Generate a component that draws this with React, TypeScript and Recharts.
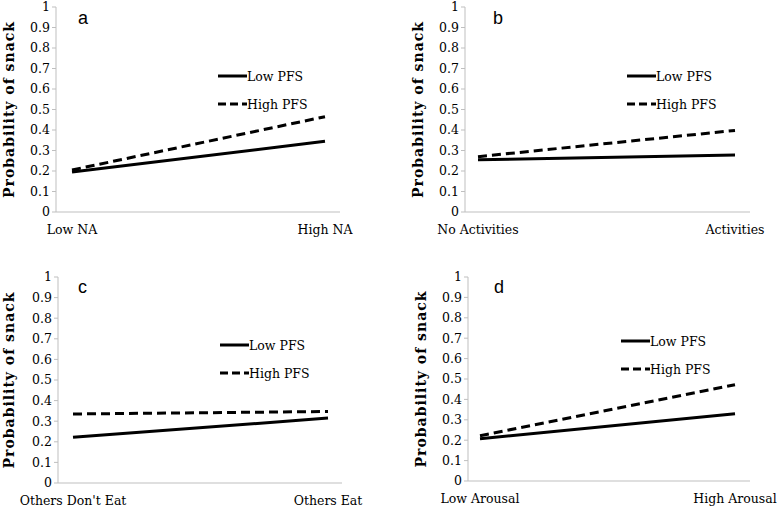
import { LineChart, Line, XAxis, YAxis } from 'recharts'

const yTicks = [0, 0.1, 0.2, 0.3, 0.4, 0.5, 0.6, 0.7, 0.8, 0.9, 1]
const legendLabels = ['Low PFS', 'High PFS']

const catsA = ['Low NA', 'High NA']
const lowA = [0.195, 0.345]
const highA = [0.205, 0.465]

const catsB = ['No Activities', 'Activities']
const lowB = [0.255, 0.278]
const highB = [0.27, 0.398]

const catsC = ["Others Don't Eat", 'Others Eat']
const lowC = [0.222, 0.315]
const highC = [0.335, 0.347]

const catsD = ['Low Arousal', 'High Arousal']
const lowD = [0.207, 0.33]
const highD = [0.222, 0.472]

const SERIF = '"DejaVu Serif", serif'
const AXIS_GRAY = '#bfbfbf'

function buildRows(cats: string[], low: number[], high: number[]) {
  return cats.map((c, i) => ({ cat: c, low: low[i], high: high[i] }))
}

function YTitle(props: any) {
  const { viewBox, titleX } = props
  const cy = viewBox.y + viewBox.height / 2
  return (
    <text
      x={titleX}
      y={cy}
      transform={`rotate(-90, ${titleX}, ${cy})`}
      textAnchor="middle"
      dominantBaseline="central"
      fontFamily={SERIF}
      fontWeight="bold"
      fontSize={14}
      letterSpacing={1}
      fill="#000"
    >
      Probability of snack
    </text>
  )
}

function LegendBox({ left, top }: { left: number; top: number }) {
  const dashes = [undefined, '8 4']
  return (
    <div style={{ position: 'absolute', left, top }}>
      {legendLabels.map((label, i) => (
        <div key={label} style={{ display: 'flex', alignItems: 'center', height: 28 }}>
          <svg width={29} height={6} style={{ display: 'block' }}>
            <line x1={0} y1={3} x2={29} y2={3} stroke="#000" strokeWidth={3} strokeDasharray={dashes[i]} />
          </svg>
          <span style={{ fontFamily: SERIF, fontSize: 12.5, color: '#000', whiteSpace: 'nowrap' }}>{label}</span>
        </div>
      ))}
    </div>
  )
}

type PanelProps = {
  letter: string
  left: number
  top: number
  cats: string[]
  low: number[]
  high: number[]
  axisW: number
  axisH: number
  margin: { top: number; right: number; bottom: number; left: number }
  pad: { left: number; right: number }
  titleX: number
  legendPos: { left: number; top: number }
  letterPos: { left: number; top: number }
}

function Panel(p: PanelProps) {
  const rows = buildRows(p.cats, p.low, p.high)
  return (
    <div style={{ position: 'absolute', left: p.left, top: p.top, width: 389, height: 254 }}>
      <LineChart width={389} height={254} data={rows} margin={p.margin} style={{ overflow: 'visible' }}>
        <XAxis
          dataKey="cat"
          height={p.axisH}
          axisLine={{ stroke: AXIS_GRAY }}
          tickLine={false}
          tickSize={0}
          tickMargin={13}
          padding={p.pad}
          interval={0}
          tick={{ fontFamily: SERIF, fontSize: 12.5, fill: '#000' }}
        />
        <YAxis
          width={p.axisW}
          domain={[0, 1]}
          ticks={yTicks}
          axisLine={{ stroke: AXIS_GRAY }}
          tickLine={{ stroke: AXIS_GRAY }}
          tickSize={4}
          tickMargin={2}
          interval={0}
          tick={{ fontFamily: SERIF, fontSize: 12.5, fill: '#000' }}
          label={<YTitle titleX={p.titleX} />}
        />
        <Line
          dataKey="low"
          name="Low PFS"
          stroke="#000"
          strokeWidth={3}
          dot={false}
          isAnimationActive={false}
        />
        <Line
          dataKey="high"
          name="High PFS"
          stroke="#000"
          strokeWidth={3}
          strokeDasharray="9 5"
          dot={false}
          isAnimationActive={false}
        />
      </LineChart>
      <LegendBox left={p.legendPos.left} top={p.legendPos.top} />
      <div
        style={{
          position: 'absolute',
          left: p.letterPos.left,
          top: p.letterPos.top,
          fontFamily: '"Liberation Sans", Arial, sans-serif',
          fontSize: 18,
          lineHeight: '18px',
          color: '#000',
        }}
      >
        {p.letter}
      </div>
    </div>
  )
}

export default function App() {
  return (
    <div style={{ position: 'absolute', left: 0, top: 0, width: 778, height: 508, background: '#fff' }}>
      <Panel
        letter="a"
        left={0}
        top={0}
        cats={catsA}
        low={lowA}
        high={highA}
        axisW={56}
        axisH={42}
        margin={{ top: 7, right: 49, bottom: 0, left: 0 }}
        pad={{ left: 16, right: 15 }}
        titleX={9}
        legendPos={{ left: 218, top: 62 }}
        letterPos={{ left: 78, top: 9 }}
      />
      <Panel
        letter="b"
        left={389}
        top={0}
        cats={catsB}
        low={lowB}
        high={highB}
        axisW={76}
        axisH={42}
        margin={{ top: 7, right: 28, bottom: 0, left: 0 }}
        pad={{ left: 13, right: 15 }}
        titleX={29}
        legendPos={{ left: 238, top: 62 }}
        letterPos={{ left: 104, top: 9 }}
      />
      <Panel
        letter="c"
        left={0}
        top={254}
        cats={catsC}
        low={lowC}
        high={highC}
        axisW={58}
        axisH={25}
        margin={{ top: 23, right: 47, bottom: 0, left: 0 }}
        pad={{ left: 15, right: 14 }}
        titleX={9}
        legendPos={{ left: 220, top: 77 }}
        letterPos={{ left: 78, top: 24 }}
      />
      <Panel
        letter="d"
        left={389}
        top={254}
        cats={catsD}
        low={lowD}
        high={highD}
        axisW={79}
        axisH={27}
        margin={{ top: 23, right: 28, bottom: 0, left: 0 }}
        pad={{ left: 12, right: 15 }}
        titleX={32}
        legendPos={{ left: 232, top: 73 }}
        letterPos={{ left: 105, top: 24 }}
      />
    </div>
  )
}
